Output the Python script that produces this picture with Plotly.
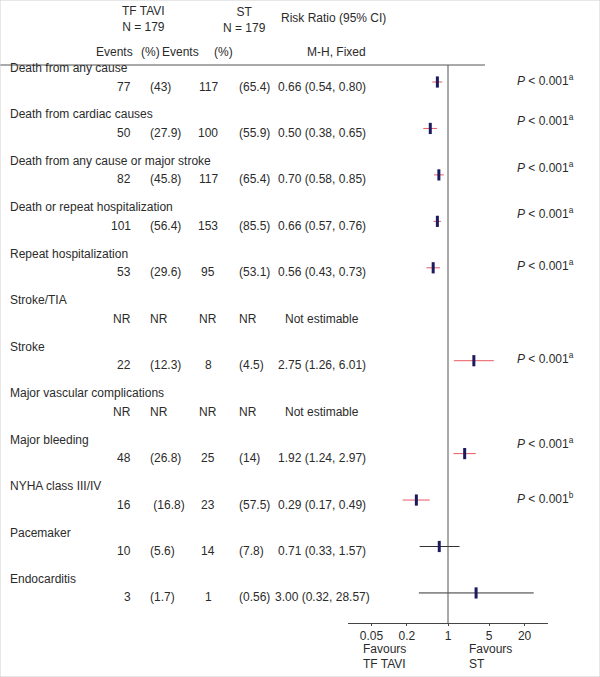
import plotly.graph_objects as go

# data
outcomes = ["Death from any cause", "Death from cardiac causes",
            "Death from any cause or major stroke", "Death or repeat hospitalization",
            "Repeat hospitalization", "Stroke/TIA", "Stroke",
            "Major vascular complications", "Major bleeding", "NYHA class III/IV",
            "Pacemaker", "Endocarditis"]
tavi_events = ["77", "50", "82", "101", "53", "NR", "22", "NR", "48", "16", "10", "3"]
tavi_pct = ["(43)", "(27.9)", "(45.8)", "(56.4)", "(29.6)", "NR", "(12.3)", "NR",
            "(26.8)", " (16.8)", "(5.6)", "(1.7)"]
st_events = ["117", "100", "117", "153", "95", "NR", "8", "NR", "25", "23", "14", "1"]
st_pct = ["(65.4)", "(55.9)", "(65.4)", "(85.5)", "(53.1)", "NR", "(4.5)", "NR",
          "(14)", "(57.5)", "(7.8)", "(0.56)"]
rr = [0.66, 0.50, 0.70, 0.66, 0.56, None, 2.75, None, 1.92, 0.29, 0.71, 3.00]
rr_lo = [0.54, 0.38, 0.58, 0.57, 0.43, None, 1.26, None, 1.24, 0.17, 0.33, 0.32]
rr_hi = [0.80, 0.65, 0.85, 0.76, 0.73, None, 6.01, None, 2.97, 0.49, 1.57, 28.57]
p_note = ["a", "a", "a", "a", "a", None, "a", None, "a", "b", None, None]
tick_vals = [0.05, 0.2, 1, 5, 20]
tick_text = ["0.05", "0.2", "1", "5", "20"]

W, H = 600, 677
FONT = "Liberation Sans, Arial, sans-serif"
TXT = "#2b2b2b"

# layout (pixel rows)
name_y = [68 + 46.45 * i for i in range(len(outcomes))]
data_y = [y + 18.5 for y in name_y]
p_dy = [-7, -13, -12, -13, -7, 0, -7, 0, -15, -7, 0, 0]


def px(x):
    return x / W


ann = []


def txt(x, y, s, anchor="left", size=12):
    ann.append(dict(x=px(x), y=y, xref="paper", yref="y", text=s, showarrow=False,
                    xanchor=anchor, yanchor="middle",
                    font=dict(family=FONT, size=size, color=TXT)))


# header
txt(143, 19, "TF TAVI<br>N = 179", "center")
txt(244, 20, "ST<br>N = 179", "center")
txt(279, 18, "Risk Ratio (95% CI)")
txt(135, 52, "Events", "right")
txt(139, 52, "(%)")
txt(160, 52, "Events")
txt(212, 52, "(%)")
txt(336, 52, "M-H, Fixed", "center")

for i, name in enumerate(outcomes):
    txt(8, name_y[i], name)
    y = data_y[i]
    txt(133, y, tavi_events[i], "right")
    txt(148, y, tavi_pct[i])
    txt(208, y, st_events[i], "center")
    txt(237, y, st_pct[i])
    if rr[i] is None:
        txt(322, y, "Not estimable", "center")
    else:
        txt(322, y, f"{rr[i]:.2f} ({rr_lo[i]:.2f}, {rr_hi[i]:.2f})", "center")
    if p_note[i]:
        txt(515, y + p_dy[i], f"<i>P</i> < 0.001<sup>{p_note[i]}</sup>")

# favours labels, one line each
txt(361, 649, "Favours")
txt(361, 664, "TF TAVI")
txt(467, 649, "Favours")
txt(467, 664, "ST")

fig = go.Figure()

# CI lines: red when significant, dark otherwise
for sig, col in [(True, "#e85a5f"), (False, "#333333")]:
    xs, ys = [], []
    for i in range(len(rr)):
        if rr[i] is None:
            continue
        if (rr_lo[i] > 1 or rr_hi[i] < 1) == sig:
            xs += [rr_lo[i], rr_hi[i], None]
            ys += [data_y[i] - 4.5] * 2 + [None]
    fig.add_trace(go.Scatter(x=xs, y=ys, mode="lines", line=dict(color=col, width=1),
                             hoverinfo="skip"))

mx = [v for v in rr if v is not None]
my = [data_y[i] - 4.5 for i in range(len(rr)) if rr[i] is not None]
fig.add_trace(go.Scatter(x=mx, y=my, mode="markers",
                         marker=dict(symbol="line-ns", size=8,
                                     line=dict(color="#1b1b5e", width=3))))

axis_y = 623
shapes = [
    dict(type="line", xref="paper", yref="y", x0=0, x1=px(485), y0=65, y1=65,
         line=dict(color="#555555", width=1)),
    dict(type="line", xref="x", yref="y", x0=1, x1=1, y0=65, y1=axis_y,
         line=dict(color="#555555", width=1)),
    dict(type="rect", xref="paper", yref="paper", x0=0, x1=1, y0=0, y1=1,
         line=dict(color="#cfcfcf", width=1)),
]

fig.update_layout(
    width=W, height=H, margin=dict(l=0, r=0, t=0, b=0, autoexpand=False),
    paper_bgcolor="white", plot_bgcolor="white", showlegend=False,
    annotations=ann, shapes=shapes,
    xaxis=dict(type="log", range=[-1.699, 1.699], domain=[px(348), px(548)],
               anchor="free", position=1 - axis_y / H, showgrid=False, zeroline=False,
               showline=True, linecolor="#444444", linewidth=1,
               ticks="outside", ticklen=2, tickcolor="#444444",
               tickvals=tick_vals, ticktext=tick_text,
               tickfont=dict(family=FONT, size=12, color=TXT)),
    yaxis=dict(range=[H, 0], domain=[0, 1], visible=False, fixedrange=True),
)

fig.write_html("out.html", config={"displayModeBar": False},
               post_script="document.body.style.margin='0';")
